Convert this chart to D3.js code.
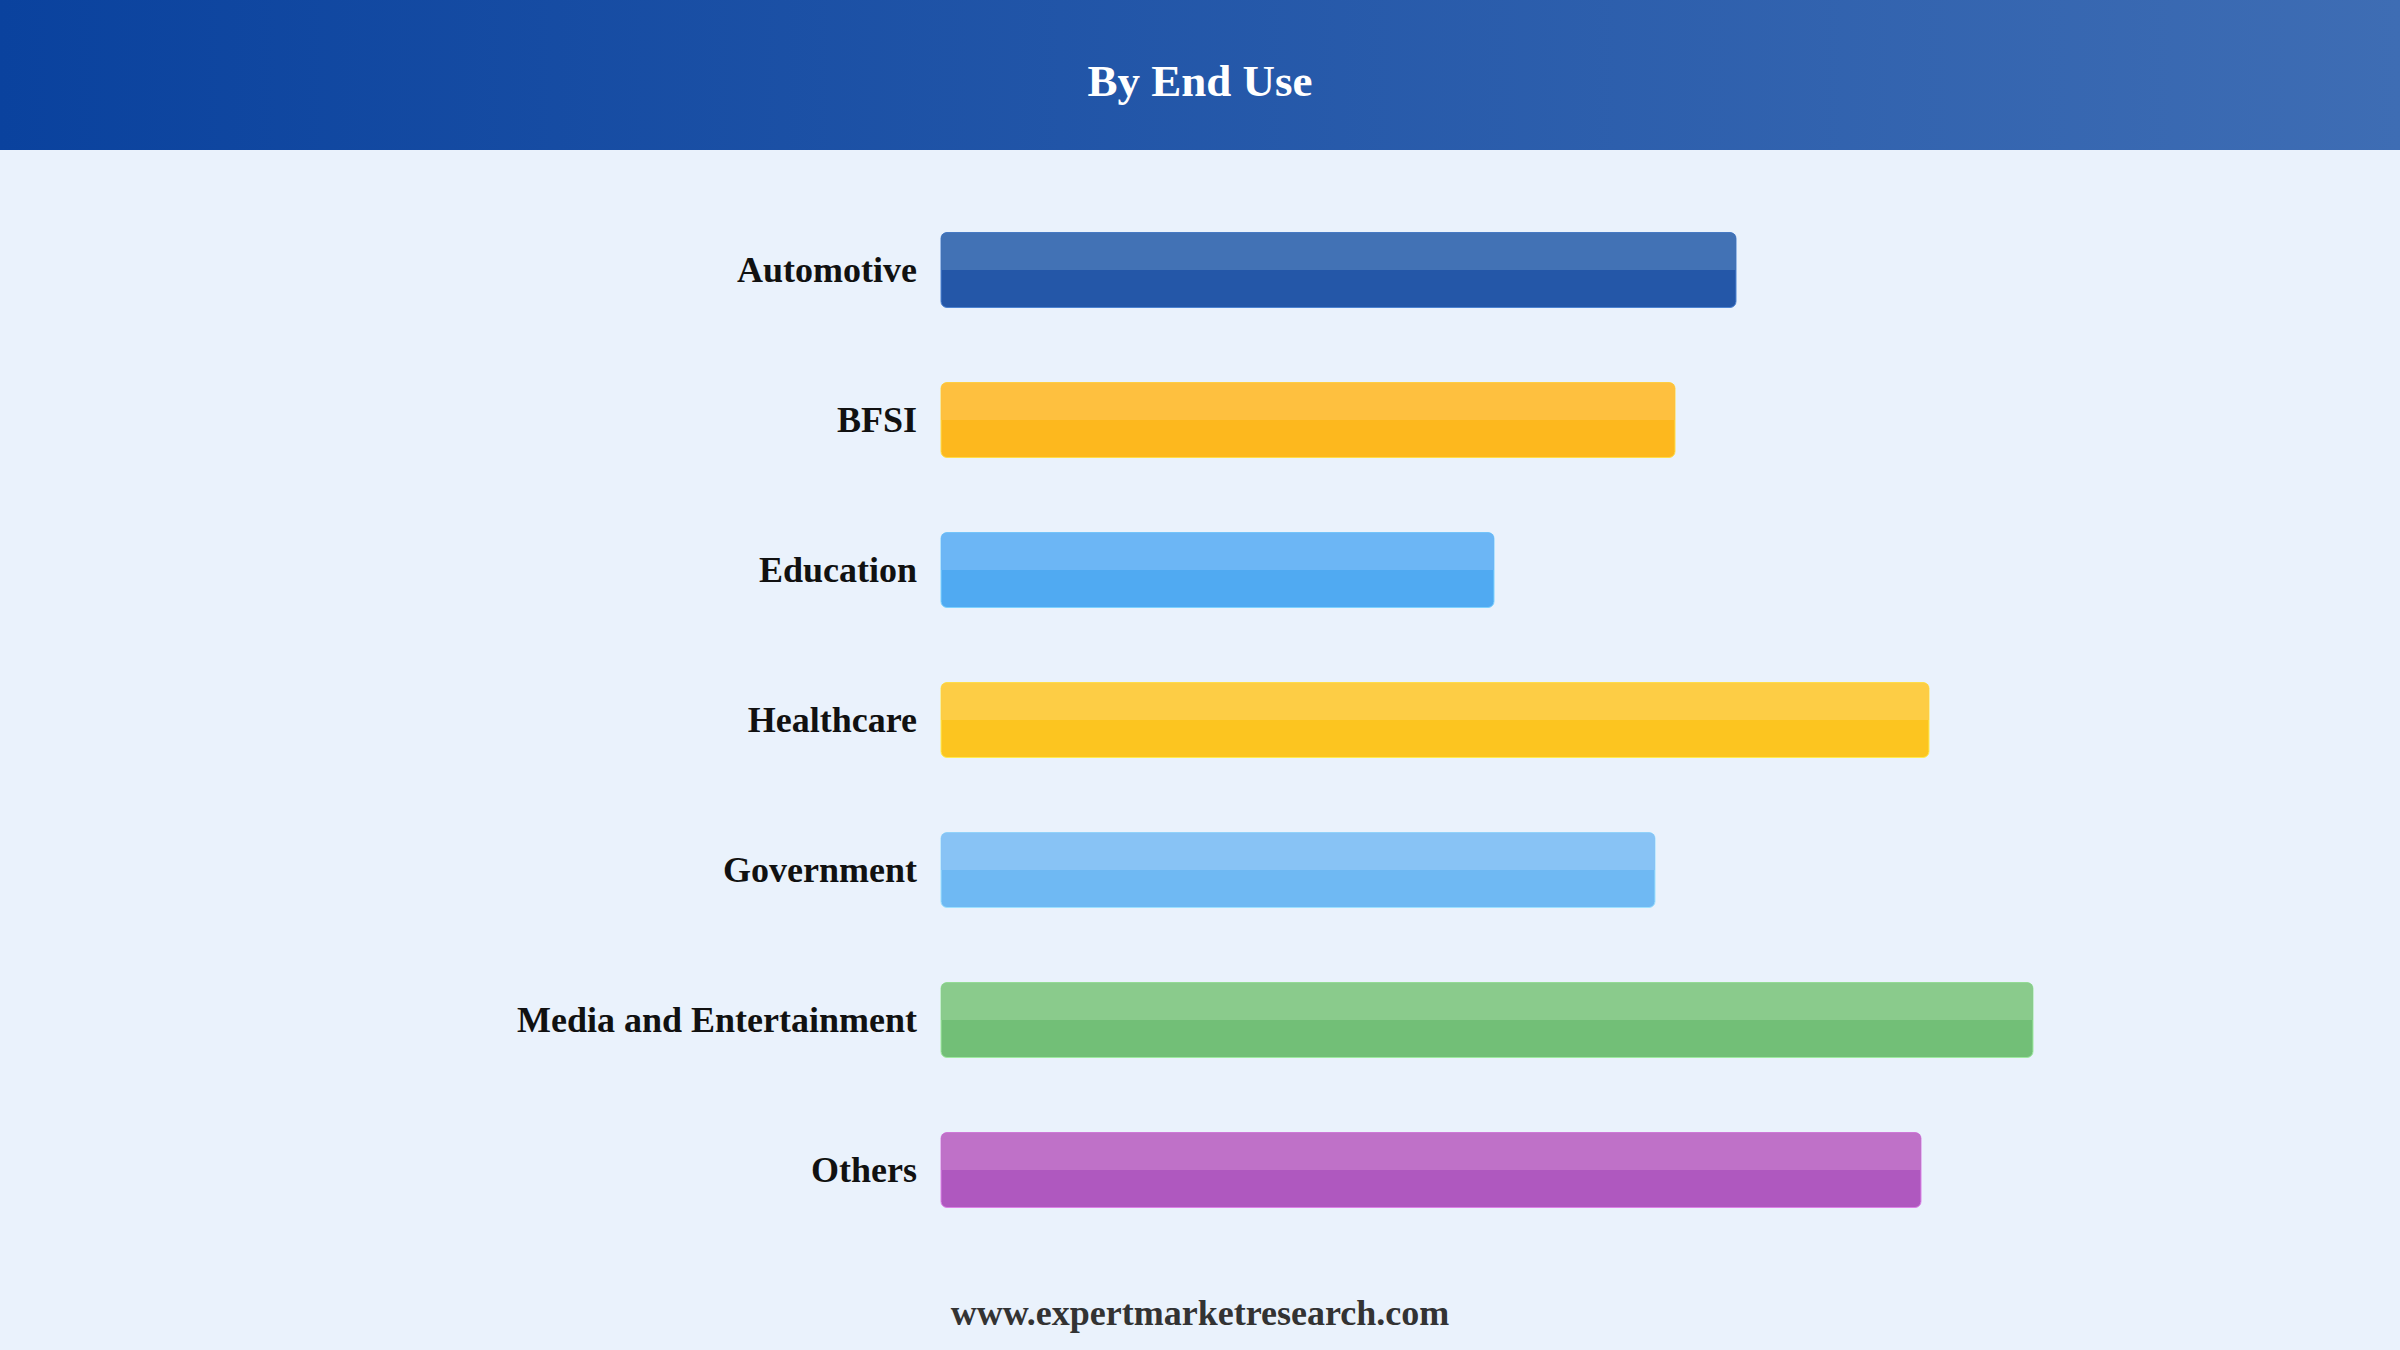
<!DOCTYPE html>
<html>
<head>
<meta charset="utf-8">
<script src="https://cdn.jsdelivr.net/npm/d3@7"></script>
<style>
html,body{margin:0;padding:0;background:#eaf2fc;}
svg{display:block;}
</style>
</head>
<body>
<svg id="chart" width="2400" height="1350"></svg>
<script>
const categories = ["Automotive","BFSI","Education","Healthcare","Government","Media and Entertainment","Others"];
const values = [7.95, 7.34, 5.53, 9.88, 7.14, 10.92, 9.80];
const colorsBottom = ["#2457a8","#fdb81e","#50aaf2","#fcc520","#6fb9f3","#72bf77","#af58bf"];
const colorsTop = ["#4272b5","#fec03f","#6cb6f5","#fdcd45","#88c3f5","#8acb8c","#bf71c8"];
const title = "By End Use";
const footer = "www.expertmarketresearch.com";

const W = 2400, H = 1350;
const svg = d3.select("#chart");
const defs = svg.append("defs");
const grad = defs.append("linearGradient").attr("id","hdr").attr("x1","0%").attr("x2","100%").attr("y1","0%").attr("y2","0%");
grad.append("stop").attr("offset","0%").attr("stop-color","#0a429e");
grad.append("stop").attr("offset","100%").attr("stop-color","#3e6db4");

svg.append("rect").attr("x",0).attr("y",0).attr("width",W).attr("height",H).attr("fill","#eaf2fc");
svg.append("rect").attr("x",0).attr("y",0).attr("width",W).attr("height",150).attr("fill","url(#hdr)");
svg.append("text").attr("x",W/2).attr("y",96).attr("text-anchor","middle")
  .attr("font-family","'Liberation Serif','Times New Roman',serif").attr("font-weight","bold")
  .attr("font-size",45).attr("fill","#ffffff").text(title);

const x = d3.scaleLinear().domain([0, 12]).range([941, 941 + 1200]);
const y = d3.scaleBand().domain(categories).range([195, 1245]).paddingInner(0.5).paddingOuter(0.25);

const g = svg.append("g");
const bars = g.selectAll("g.bar").data(categories).enter().append("g").attr("class","bar");

bars.append("rect")
  .attr("x", x(0)).attr("y", d => y(d))
  .attr("width", (d,i) => x(values[i]) - x(0)).attr("height", y.bandwidth())
  .attr("rx", 6).attr("ry", 6)
  .attr("fill", (d,i) => colorsBottom[i])
  .attr("stroke", (d,i) => d3.color(colorsTop[i]).brighter(0.4))
  .attr("stroke-width", 1);

bars.append("rect")
  .attr("x", x(0)).attr("y", d => y(d))
  .attr("width", (d,i) => x(values[i]) - x(0)).attr("height", y.bandwidth()/2)
  .attr("rx", 6).attr("ry", 6)
  .attr("fill", (d,i) => colorsTop[i]);
bars.append("rect")
  .attr("x", x(0)).attr("y", d => y(d) + 6)
  .attr("width", (d,i) => x(values[i]) - x(0)).attr("height", y.bandwidth()/2 - 6)
  .attr("fill", (d,i) => colorsTop[i]);

bars.append("text")
  .attr("x", 917).attr("y", d => y(d) + y.bandwidth()/2 + 12)
  .attr("text-anchor","end")
  .attr("font-family","'Liberation Serif','Times New Roman',serif").attr("font-weight","bold")
  .attr("font-size",36).attr("fill","#111111")
  .text(d => d);

svg.append("text").attr("x",W/2).attr("y",1325).attr("text-anchor","middle")
  .attr("font-family","'Liberation Serif','Times New Roman',serif").attr("font-weight","bold")
  .attr("font-size",36).attr("fill","#333333").text(footer);
</script>
</body>
</html>
